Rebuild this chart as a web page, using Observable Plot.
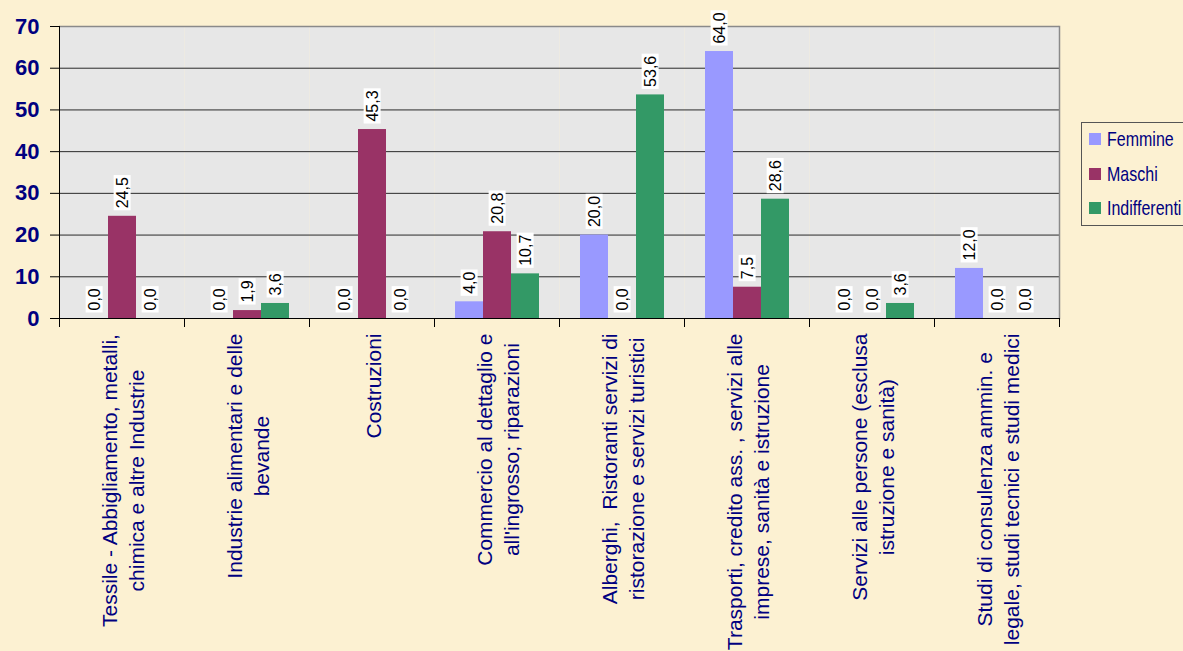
<!DOCTYPE html>
<html><head><meta charset="utf-8">
<script src="https://cdn.jsdelivr.net/npm/d3@7"></script>
<script src="https://cdn.jsdelivr.net/npm/@observablehq/plot@0.6"></script>
<style>
html,body{margin:0;padding:0;}
body{width:1183px;height:651px;overflow:hidden;background:#FCF1D2;font-family:"Liberation Sans",Arial,sans-serif;}
#wrap{position:relative;width:1183px;height:651px;}
#legend{position:absolute;left:1081px;top:122px;width:130px;height:104px;border:1px solid #555;box-sizing:border-box;background:#FCF1D2;}
.item{position:absolute;left:7px;height:20px;display:flex;align-items:center;color:#000080;font-size:16px;white-space:nowrap;}
.sw{width:12px;height:12px;margin-right:6px;}
.lt{display:inline-block;transform:scaleY(1.3);}
</style></head><body><div id="wrap"><div id="legend"></div></div>
<script>
const categories = [
  "Tessile - Abbigliamento, metalli,\nchimica e altre Industrie",
  "Industrie alimentari e delle\nbevande",
  "Costruzioni",
  "Commercio al dettaglio e\nall'ingrosso; riparazioni",
  "Alberghi,  Ristoranti servizi di\nristorazione e servizi turistici",
  "Trasporti, credito ass. , servizi alle\nimprese, sanità e istruzione",
  "Servizi alle persone (esclusa\nistruzione e sanità)",
  "Studi di consulenza ammin. e\nlegale, studi tecnici e studi medici"
];
const series = ["Femmine", "Maschi", "Indifferenti"];
const colors = ["#9999FF", "#993366", "#339966"];
const femmine      = [0.0, 0.0, 0.0, 4.0, 20.0, 64.0, 0.0, 12.0];
const maschi       = [24.5, 1.9, 45.3, 20.8, 0.0, 7.5, 0.0, 0.0];
const indifferenti = [0.0, 3.6, 0.0, 10.7, 53.6, 28.6, 3.6, 0.0];
const yTicks = [0, 10, 20, 30, 40, 50, 60, 70];

const W = 1183, H = 651, mL = 57, mR = 123, mT = 26, mB = 333;
const plotH = H - mT - mB;
const valuesBySeries = [femmine, maschi, indifferenti];
const rows = categories.flatMap((c, i) => series.map((s, j) => ({category: c, series: s, value: valuesBySeries[j][i]})));

const ctx = document.createElement("canvas").getContext("2d");
const catFont = 21;
ctx.font = catFont + "px 'Liberation Sans'";
const labelMarks = categories.map(c => {
  const w = Math.max(...c.split("\n").map(l => ctx.measureText(l).width));
  return Plot.text([c], {fx: d => d, text: d => d, frameAnchor: "bottom", rotate: -90,
    textAnchor: "middle", lineAnchor: "middle", lineHeight: 1.3, dy: 15 + w / 2,
    fontSize: catFont, fill: "#000080"});
});

const chart = Plot.plot({
  width: W, height: H,
  marginLeft: mL, marginRight: mR, marginTop: mT, marginBottom: mB,
  style: {background: "transparent", fontFamily: "'Liberation Sans', Arial, sans-serif", overflow: "visible"},
  fx: {domain: categories, padding: 0, axis: null, label: null},
  x: {domain: series, paddingInner: 0, paddingOuter: 0.715, axis: null, label: null},
  y: {domain: [0, 70], axis: null, label: null},
  color: {domain: series, range: colors},
  marks: [
    Plot.frame({fill: "#E7E7E7", stroke: null}),
    Plot.ruleY(yTicks.filter(t => t > 0 && t < 70), {stroke: "#2a2a2a", strokeWidth: 1}),
    Plot.ruleY([70], {stroke: "#8a8a8a", strokeWidth: 1.5}),
    Plot.frame({anchor: "right", facetAnchor: "right", stroke: "#8a8a8a", strokeWidth: 1.5}),
    Plot.barY(rows, {fx: "category", x: "series", y: "value", fill: "series"}),
    Plot.ruleY([0], {stroke: "#000", strokeWidth: 1.2}),
    Plot.frame({anchor: "left", facetAnchor: "left", stroke: "#000", strokeWidth: 1}),
    Plot.frame({anchor: "left", insetTop: plotH, insetBottom: -8, stroke: "#000", strokeWidth: 1}),
    Plot.frame({anchor: "right", facetAnchor: "right", insetTop: plotH, insetBottom: -8, stroke: "#000", strokeWidth: 1}),
    Plot.text(rows, {fx: "category", x: "series", y: "value",
      text: d => d.value.toFixed(1).replace(".", ","),
      rotate: -90, textAnchor: "start", lineAnchor: "middle", dy: -8,
      fontSize: 16, fill: "#000"}),
    Plot.axisY({ticks: yTicks, tickSize: 9, tickPadding: 11, fontSize: 22, fontWeight: "bold",
      fill: "#000080", stroke: "#000", tickFormat: d => String(d)}),
    ...labelMarks
  ]
});
document.getElementById("wrap").prepend(chart);

// white boxes behind value labels
chart.querySelectorAll("text").forEach(t => {
  if (/^\d+,\d$/.test(t.textContent.trim())) {
    const b = t.getBBox();
    const r = document.createElementNS("http://www.w3.org/2000/svg", "rect");
    r.setAttribute("x", b.x - 2);
    r.setAttribute("y", b.y);
    r.setAttribute("width", b.width + 4);
    r.setAttribute("height", b.height);
    r.setAttribute("fill", "#fff");
    const tr = t.getAttribute("transform");
    if (tr) r.setAttribute("transform", tr);
    t.parentNode.insertBefore(r, t);
  }
});

// legend
const legend = document.getElementById("legend");
series.forEach((s, i) => {
  const it = document.createElement("div");
  it.className = "item";
  it.style.top = (6 + i * 34.5) + "px";
  it.innerHTML = `<span class="sw" style="background:${colors[i]}"></span><span class="lt">${s}</span>`;
  legend.appendChild(it);
});
</script>
</body></html>
